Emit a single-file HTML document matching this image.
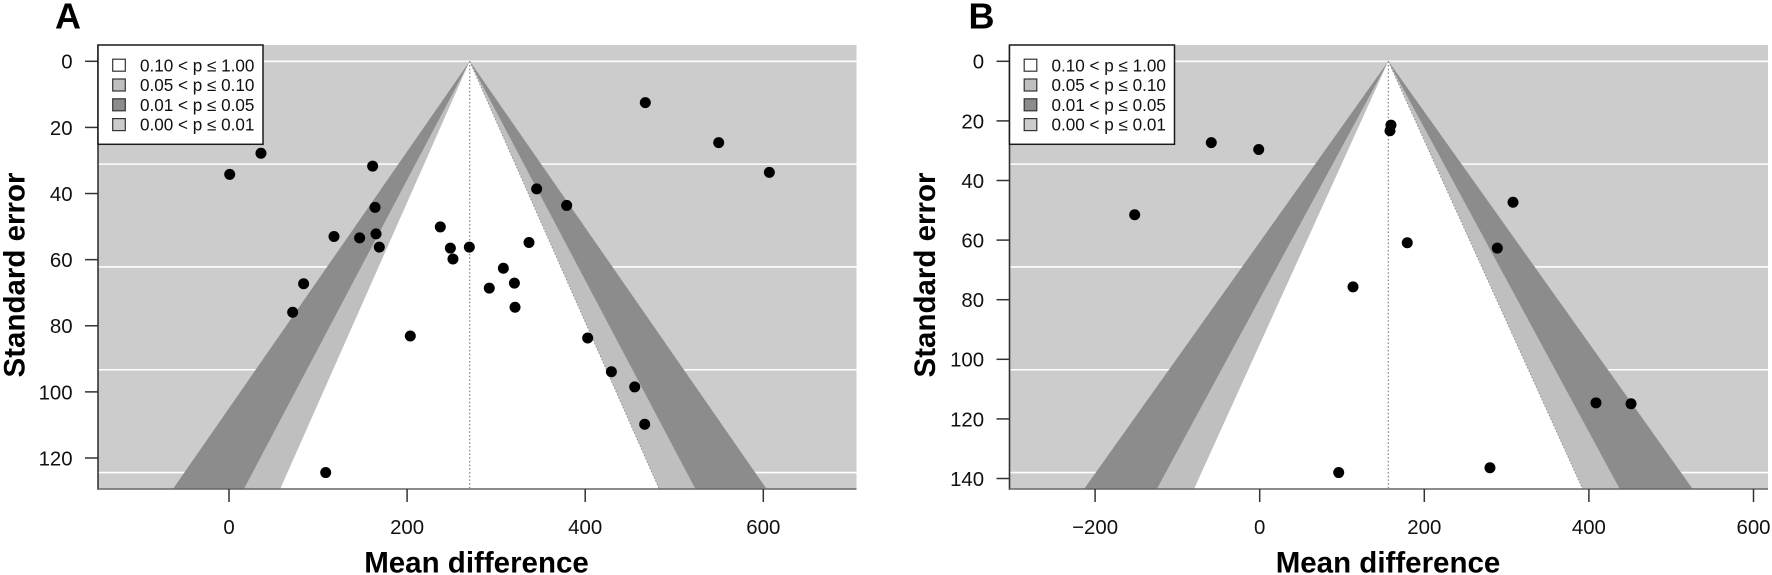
<!DOCTYPE html>
<html lang="en">
<head>
<meta charset="utf-8">
<title>Contour-enhanced funnel plots</title>
<style>
  html, body { margin: 0; padding: 0; background: #fff; }
  svg { display: block; font-family: "Liberation Sans", Arial, sans-serif; }
  .tick-label { font-size: 20.4px; fill: #111; }
  .axis-title { font-size: 29.5px; font-weight: bold; fill: #000; }
  .panel-letter { font-size: 36px; font-weight: bold; fill: #000; }
  .legend-text { font-size: 17.1px; fill: #111; }
</style>
</head>
<body>
<svg id="chart" width="1772" height="575" viewBox="0 0 1772 575" xmlns="http://www.w3.org/2000/svg"></svg>
<script>
// Panel A data
const panelAEffects = [35.9, 0.8, 161.3, 164, 117.9, 146.7, 165.1, 168.8, 83.8, 71.5, 203.6, 237.3, 248.6, 251.5, 269.9, 336.9, 308.1, 320.5, 292.3, 321.2, 402.8, 345.5, 379.2, 467.5, 549.9, 606.8, 429.4, 455.6, 466.8, 108.6];
const panelAErrors = [27.8, 34.2, 31.7, 44.2, 53.0, 53.4, 52.2, 56.2, 67.3, 75.9, 83.1, 50.1, 56.5, 59.8, 56.2, 54.8, 62.6, 67.1, 68.6, 74.4, 83.7, 38.6, 43.6, 12.5, 24.6, 33.6, 93.9, 98.5, 109.8, 124.4];
const panelACenter = 270.3;
const panelAXTicks = [0, 200, 400, 600];
const panelAYTicks = [0, 20, 40, 60, 80, 100, 120];

// Panel B data
const panelBEffects = [-58.8, -1.2, -151.9, 159.5, 158.3, 307.8, 288.7, 179.3, 113.4, 408.6, 451.2, 96, 279.8];
const panelBErrors = [27.3, 29.6, 51.5, 21.4, 23.3, 47.3, 62.7, 60.9, 75.7, 114.6, 114.9, 138, 136.4];
const panelBCenter = 156.3;
const panelBXTicks = [-200, 0, 200, 400, 600];
const panelBYTicks = [0, 20, 40, 60, 80, 100, 120, 140];

// Shared legend and contour data
const legendLabels = ["0.10 < p \u2264 1.00", "0.05 < p \u2264 0.10", "0.01 < p \u2264 0.05", "0.00 < p \u2264 0.01"];
const legendFills = ["#ffffff", "#bfbfbf", "#8c8c8c", "#cccccc"];
const contourZ = [2.576, 1.96, 1.645];
const contourFills = ["#8c8c8c", "#bfbfbf", "#ffffff"];

const NS = "http://www.w3.org/2000/svg";
const root = document.getElementById("chart");

function add(parent, tag, attrs, text) {
  const el = document.createElementNS(NS, tag);
  for (const k in attrs) el.setAttribute(k, attrs[k]);
  if (text !== undefined) el.textContent = text;
  parent.appendChild(el);
  return el;
}

function drawPanel(cfg) {
  const g = add(root, "g", {});
  
  

  const seMax = Math.max.apply(null, cfg.errors);
  const yLimit = seMax * 1.04;
  const xPos = v => cfg.x0 + (v - cfg.xRefLow) * cfg.xScale;
  const yPos = v => cfg.top0 + (v / yLimit) * (cfg.bottom - cfg.top0);

  // Background
  const bg = add(g, "rect", { x: cfg.left, y: cfg.top, width: cfg.right - cfg.left, height: cfg.bottom - cfg.top, fill: "#cccccc" });
  
  

  // Gridlines at even divisions of the largest standard error
  for (let i = 0; i < 5; i++) {
    const y = yPos(seMax * i / 4);
    const line = add(g, "line", { x1: cfg.left, x2: cfg.right, y1: y, y2: y, stroke: "#ffffff", "stroke-width": 1.6 });
    
    
  }

  // Funnel contours
  contourZ.forEach((z, i) => {
    const half = z * yLimit;
    const apexX = xPos(cfg.center);
    const pts = [
      [apexX, yPos(0)],
      [xPos(cfg.center + half), yPos(yLimit)],
      [xPos(cfg.center - half), yPos(yLimit)]
    ].map(p => p.join(",")).join(" ");
    const poly = add(g, "polygon", { points: pts, fill: contourFills[i] });
    
    
    const edge = add(g, "polyline", {
      points: pts, fill: "none",
      stroke: i === 2 ? "#8a8a8a" : "#999999",
      "stroke-width": i === 2 ? 0.9 : 0.6,
      "stroke-dasharray": "1.5 2"
    });
    
    
  });

  // Centre reference line
  const centre = add(g, "line", {
    x1: xPos(cfg.center), x2: xPos(cfg.center), y1: yPos(0), y2: cfg.bottom,
    stroke: "#808080", "stroke-width": 1.2, "stroke-dasharray": "1.5 2.2"
  });
  
  

  // Axes
  const leftAxis = add(g, "line", { x1: cfg.left, x2: cfg.left, y1: cfg.top, y2: cfg.bottom + 0.7, stroke: "#333333", "stroke-width": 1.6 });
  
  
  const bottomAxis = add(g, "line", { x1: cfg.left, x2: cfg.right, y1: cfg.bottom, y2: cfg.bottom, stroke: "#666666", "stroke-width": 1.6 });
  
  

  cfg.xTicks.forEach(v => {
    const x = xPos(v);
    const t = add(g, "line", { x1: x, x2: x, y1: cfg.bottom, y2: cfg.bottom + 13, stroke: "#333333", "stroke-width": 1.5 });
    
    
    const label = add(g, "text", { x: x, y: 534, "text-anchor": "middle", class: "tick-label" }, v < 0 ? "\u2212" + Math.abs(v) : String(v));
    
    
  });

  cfg.yTicks.forEach(v => {
    const y = yPos(v);
    const t = add(g, "line", { x1: cfg.left - 13, x2: cfg.left, y1: y, y2: y, stroke: "#333333", "stroke-width": 1.5 });
    
    
    const label = add(g, "text", { x: cfg.left - 25.4, y: y + 7.4, "text-anchor": "end", class: "tick-label" }, String(v));
    
    
  });

  // Study points
  cfg.effects.forEach((e, i) => {
    const c = add(g, "circle", { cx: xPos(e), cy: yPos(cfg.errors[i]), r: 5.5, fill: "#000000" });
    
    
  });

  // Legend
  const lg = add(g, "g", {});
  
  
  const box = add(lg, "rect", { x: cfg.left, y: cfg.top, width: 165, height: 99.3, fill: "#ffffff", stroke: "#1a1a1a", "stroke-width": 1.5 });
  
  
  legendLabels.forEach((lab, i) => {
    const cy = cfg.top + 20.2 + i * 19.8;
    const sw = add(lg, "rect", { x: cfg.left + 14.7, y: cy - 6, width: 12.6, height: 12, fill: legendFills[i], stroke: "#333333", "stroke-width": 1.2 });
    
    
    const txt = add(lg, "text", { x: cfg.left + 42, y: cy + 6.1, class: "legend-text" }, lab);
    
    
  });

  // Titles
  const xt = add(g, "text", { x: cfg.xTitleX, y: 572.5, "text-anchor": "middle", class: "axis-title" }, "Mean difference");
  
  
  const yt = add(g, "text", { x: 0, y: 0, "text-anchor": "middle", class: "axis-title", transform: "translate(" + cfg.yTitleX + ",275) rotate(-90)" }, "Standard error");
  
  
  const letter = add(g, "text", { x: cfg.letterX, y: 28.3, class: "panel-letter" }, cfg.letter);
  
  
}

drawPanel({
  id: "a", letter: "A", letterX: 55,
  effects: panelAEffects, errors: panelAErrors, center: panelACenter,
  xTicks: panelAXTicks, yTicks: panelAYTicks,
  left: 98, right: 856.5, top: 45, bottom: 489, top0: 61.3,
  x0: 229, xRefLow: 0, xScale: 0.8905,
  xTitleX: 476.5, yTitleX: 24.5
});

drawPanel({
  id: "b", letter: "B", letterX: 968.5,
  effects: panelBEffects, errors: panelBErrors, center: panelBCenter,
  xTicks: panelBXTicks, yTicks: panelBYTicks,
  left: 1009.5, right: 1768, top: 45, bottom: 489, top0: 61.3,
  x0: 1259.7, xRefLow: 0, xScale: 0.823,
  xTitleX: 1388, yTitleX: 935
});
</script>
</body>
</html>
